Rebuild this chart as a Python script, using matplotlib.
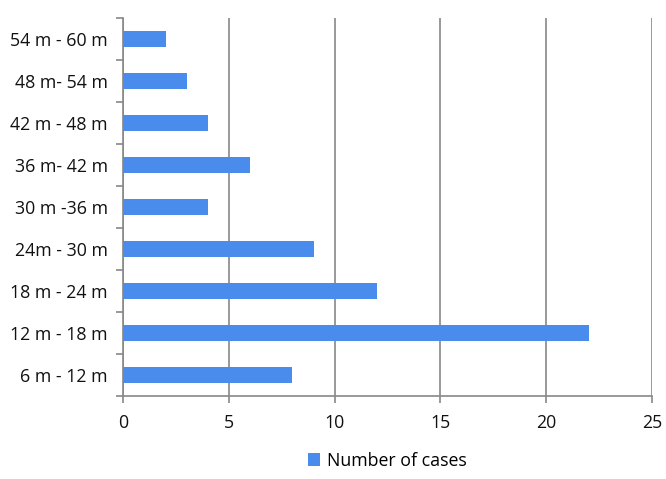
import numpy as np
import matplotlib.pyplot as plt

categories = ['6 m - 12 m', '12 m - 18 m', '18 m - 24 m', '24m - 30 m', '30 m -36 m',
              '36 m- 42 m', '42 m - 48 m', '48 m- 54 m', '54 m - 60 m']
cases = [8, 22, 12, 9, 4, 6, 4, 3, 2]
xticks = [0, 5, 10, 15, 20, 25]

plt.rcParams['font.family'] = ['Open Sans', 'DejaVu Sans']

fig = plt.figure(figsize=(6.66, 4.79), dpi=100)
ax = fig.add_axes([0.185, 0.173, 0.794, 0.789])

y = np.arange(len(categories))
ax.barh(y, cases, height=0.38, color='#4a8cec', label='Number of cases', zorder=3)

ax.set_xlim(0, 25)
ax.set_ylim(-0.5, len(categories) - 0.5)
ax.set_xticks(xticks)
ax.set_yticks(y)
ax.set_yticklabels(categories)
ax.set_yticks(np.arange(-0.5, len(categories), 1), minor=True)
ax.tick_params(axis='y', which='major', length=0, pad=11, labelsize=12.8)
ax.tick_params(axis='y', which='minor', length=5, color='#888888', width=1.2)
ax.tick_params(axis='x', length=5, color='#888888', width=1.2, pad=8, labelsize=12.8)
for lab in ax.get_xticklabels() + ax.get_yticklabels():
    lab.set_color('#111111')

ax.grid(axis='x', color='#888888', linewidth=1.2, zorder=0)
for s in ['top', 'right']:
    ax.spines[s].set_visible(False)
for s in ['left', 'bottom']:
    ax.spines[s].set_color('#888888')
    ax.spines[s].set_linewidth(1.2)

ax.legend(loc='upper center', bbox_to_anchor=(0.5, -0.105), frameon=False,
          fontsize=12.8, handlelength=0.65, handleheight=0.75, handletextpad=0.4)

plt.savefig('out.png')
